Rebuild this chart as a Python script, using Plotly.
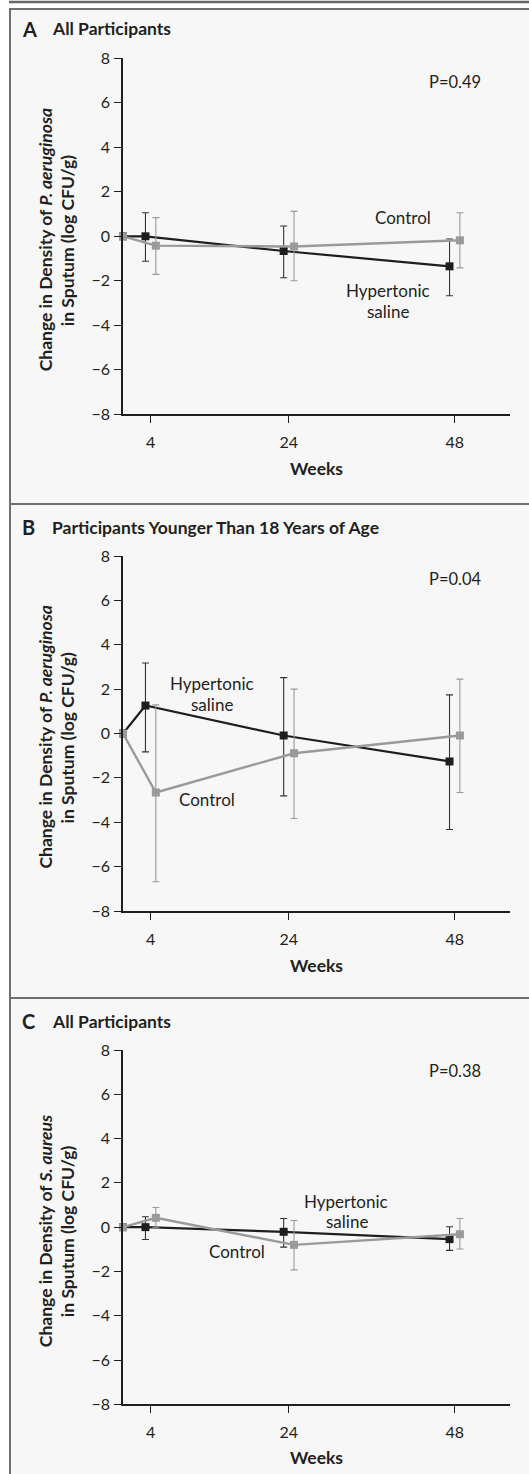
import plotly.graph_objects as go

W, H = 529, 1474

# ---------------- data ----------------
weeks = [0, 4, 24, 48]
x_ticks = [4, 24, 48]
y_ticks = [-8, -6, -4, -2, 0, 2, 4, 6, 8]
dodge = 0.75  # horizontal dodge between the two groups (weeks)

panel_letters = ["A", "B", "C"]
panel_titles = ["All Participants", "Participants Younger Than 18 Years of Age", "All Participants"]
organisms = ["P. aeruginosa", "P. aeruginosa", "S. aureus"]
p_values = ["P=0.49", "P=0.04", "P=0.38"]

# Panel A
A_hyp = [0, 0.00, -0.66, -1.35]
A_hyp_hi = [0, 1.06, 0.46, -0.12]
A_hyp_lo = [0, -1.12, -1.86, -2.67]
A_ctl = [0, -0.42, -0.46, -0.18]
A_ctl_hi = [0, 0.84, 1.12, 1.06]
A_ctl_lo = [0, -1.71, -2.00, -1.42]

# Panel B
B_hyp = [0, 1.26, -0.09, -1.26]
B_hyp_hi = [0, 3.18, 2.52, 1.74]
B_hyp_lo = [0, -0.83, -2.81, -4.33]
B_ctl = [0, -2.66, -0.89, -0.09]
B_ctl_hi = [0, 1.29, 2.00, 2.45]
B_ctl_lo = [0, -6.68, -3.83, -2.66]

# Panel C
C_hyp = [0, 0.00, -0.21, -0.54]
C_hyp_hi = [0, 0.47, 0.39, 0.02]
C_hyp_lo = [0, -0.56, -0.90, -1.05]
C_ctl = [0, 0.42, -0.80, -0.32]
C_ctl_hi = [0, 0.89, 0.30, 0.39]
C_ctl_lo = [0, -0.03, -1.93, -0.99]

panels = [
    (A_hyp, A_hyp_hi, A_hyp_lo, A_ctl, A_ctl_hi, A_ctl_lo),
    (B_hyp, B_hyp_hi, B_hyp_lo, B_ctl, B_ctl_hi, B_ctl_lo),
    (C_hyp, C_hyp_hi, C_hyp_lo, C_ctl, C_ctl_hi, C_ctl_lo),
]

# ---------------- layout geometry (pixels) ----------------
FONT = "Lato"
TXT = "#231f20"
BLACK = "#1e1e1e"
GRAY = "#9a9a9a"
PANEL_BG = "#f7f7f7"
BORDER = "#707070"


def px(x):
    return x / W


def py(y):
    return 1 - y / H


x_dom = [px(123), px(510)]
y_px = [(58.3, 414.3), (556, 911), (1050, 1404.3)]  # top (8), bottom (-8)
panel_box = [(9, 504), (504, 998), (998, 1600)]
title_y = [29, 527, 1021]
p_y = [82, 579, 1071]
weeks_y = [468, 965, 1457]

# label positions (pixels): (text, x, y)
labels = [
    [("Control", 403, 217), ("Hypertonic", 388, 290), ("saline", 388, 311)],
    [("Hypertonic", 212, 683), ("saline", 212, 704), ("Control", 207, 799)],
    [("Hypertonic", 346, 1201), ("saline", 347, 1221), ("Control", 237, 1251)],
]

fig = go.Figure()
shapes = []
annotations = []

# top rule
shapes.append(dict(type="line", xref="paper", yref="paper", x0=px(9), x1=px(700),
                   y0=py(2), y1=py(2), line=dict(color="#666666", width=2.5), layer="below"))

for i, (hyp, hyp_hi, hyp_lo, ctl, ctl_hi, ctl_lo) in enumerate(panels):
    n = "" if i == 0 else str(i + 1)
    xa, ya = "x" + n, "y" + n

    top, bot = panel_box[i]
    shapes.append(dict(type="rect", xref="paper", yref="paper", x0=px(10), x1=px(700),
                       y0=py(bot), y1=py(top), fillcolor=PANEL_BG,
                       line=dict(color=BORDER, width=2), layer="below"))

    hyp_x = [w - (dodge if w > 0 else 0) for w in weeks]
    ctl_x = [w + (dodge if w > 0 else 0) for w in weeks]

    hyp_up = [None if w == 0 else h - v for w, v, h in zip(weeks, hyp, hyp_hi)]
    hyp_dn = [None if w == 0 else v - l for w, v, l in zip(weeks, hyp, hyp_lo)]
    ctl_up = [None if w == 0 else h - v for w, v, h in zip(weeks, ctl, ctl_hi)]
    ctl_dn = [None if w == 0 else v - l for w, v, l in zip(weeks, ctl, ctl_lo)]

    fig.add_trace(go.Scatter(
        x=hyp_x, y=hyp, mode="lines+markers", xaxis=xa, yaxis=ya, cliponaxis=False,
        line=dict(color=BLACK, width=2.2),
        marker=dict(symbol="square", size=8, color=BLACK),
        error_y=dict(type="data", array=hyp_up, arrayminus=hyp_dn, symmetric=False,
                     color="#333333", thickness=1.1, width=3.5),
        showlegend=False, name="Hypertonic saline"))
    fig.add_trace(go.Scatter(
        x=ctl_x, y=ctl, mode="lines+markers", xaxis=xa, yaxis=ya, cliponaxis=False,
        line=dict(color=GRAY, width=2.4),
        marker=dict(symbol="square", size=8, color=GRAY),
        error_y=dict(type="data", array=ctl_up, arrayminus=ctl_dn, symmetric=False,
                     color=GRAY, thickness=1.1, width=3.5),
        showlegend=False, name="Control"))

    y0, y1 = y_px[i]
    axis_common = dict(showline=True, linecolor=BLACK, linewidth=1.5, ticks="outside",
                       ticklen=7, tickwidth=1.3, tickcolor=BLACK, showgrid=False,
                       zeroline=False, automargin=False,
                       tickfont=dict(family=FONT, size=16, color=TXT))
    fig.layout["xaxis" + n] = dict(domain=x_dom, range=[0, 56], anchor=ya,
                                   tickvals=x_ticks, ticklabelstandoff=6, **axis_common)
    fig.layout["yaxis" + n] = dict(domain=[py(y1), py(y0)], range=[-8, 8], anchor=xa,
                                   tickvals=y_ticks, ticklabelstandoff=1, **axis_common)

    # panel title
    annotations.append(dict(text="<b>" + panel_letters[i] + "</b>", x=px(20), y=py(title_y[i]),
                            xref="paper", yref="paper", xanchor="left", yanchor="middle",
                            showarrow=False, font=dict(family=FONT, size=20, color=TXT)))
    annotations.append(dict(text="<b>" + panel_titles[i] + "</b>", x=px(50), y=py(title_y[i]),
                            xref="paper", yref="paper", xanchor="left", yanchor="middle",
                            showarrow=False, font=dict(family=FONT, size=17.5, color=TXT)))
    # P value
    annotations.append(dict(text=p_values[i], x=px(455), y=py(p_y[i]), xref="paper",
                            yref="paper", xanchor="center", yanchor="middle", showarrow=False,
                            font=dict(family=FONT, size=16.5, color=TXT)))
    # y title (two lines)
    ymid = (y0 + y1) / 2 + 4
    annotations.append(dict(text="<b>Change in Density of <i>" + organisms[i] + "</i></b>",
                            x=px(45), y=py(ymid), xref="paper", yref="paper", textangle=-90,
                            xanchor="center", yanchor="middle", showarrow=False,
                            font=dict(family=FONT, size=17.5, color=TXT)))
    annotations.append(dict(text="<b>in Sputum (log CFU/g)</b>",
                            x=px(67), y=py(ymid), xref="paper", yref="paper", textangle=-90,
                            xanchor="center", yanchor="middle", showarrow=False,
                            font=dict(family=FONT, size=17.5, color=TXT)))
    # x title
    annotations.append(dict(text="<b>Weeks</b>", x=px(316), y=py(weeks_y[i]), xref="paper",
                            yref="paper", xanchor="center", yanchor="middle", showarrow=False,
                            font=dict(family=FONT, size=17.5, color=TXT)))
    # series labels
    for t, lx, ly in labels[i]:
        annotations.append(dict(text=t, x=px(lx), y=py(ly), xref="paper", yref="paper",
                                xanchor="center", yanchor="middle", showarrow=False,
                                font=dict(family=FONT, size=17, color=TXT)))

fig.update_layout(width=W, height=H, margin=dict(l=0, r=0, t=0, b=0, autoexpand=False),
                  paper_bgcolor="white", plot_bgcolor="rgba(0,0,0,0)",
                  shapes=shapes, annotations=annotations, showlegend=False)

fig.write_html("out.html", config={"displayModeBar": False},
               post_script="document.body.style.margin='0px';"
                           "document.body.style.padding='0px';"
                           "document.body.style.overflow='hidden';")
